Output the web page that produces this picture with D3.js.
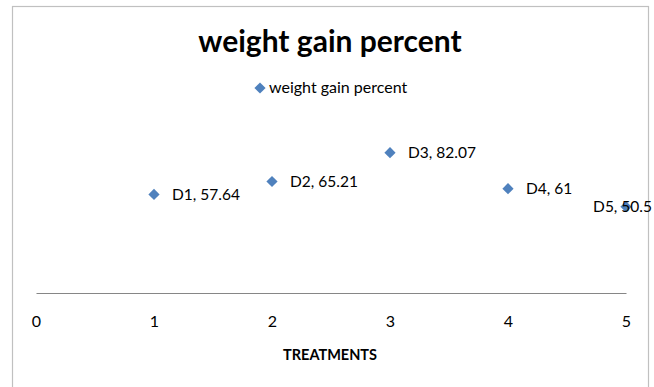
<!DOCTYPE html>
<html>
  <head>
    <meta charset="utf-8">
    <script type="text/javascript" src="https://d3js.org/d3.v7.min.js"></script>
    <style>
        body { margin:0; background:#fff; }
        svg { display:block; font-family: Lato, "Open Sans", sans-serif; }
    </style>
  </head>
  <body>
    <script type="text/javascript">
        var width = 654,
            height = 387;

        // data
        var treatments = ["D1", "D2", "D3", "D4", "D5"];
        var xValues = [1, 2, 3, 4, 5];
        var gainValues = [57.64, 65.21, 82.07, 61, 50.5];
        var xTicks = [0, 1, 2, 3, 4, 5];

        var svg = d3.select("body").append("svg")
            .attr("width", width)
            .attr("height", height);

        // chart frame
        svg.append("rect")
            .attr("x", 12.5).attr("y", 6.5)
            .attr("width", 636).attr("height", 400)
            .attr("fill", "none")
            .attr("stroke", "#c0c0c0")
            .attr("stroke-width", 1.2);

        var x = d3.scaleLinear().domain([0, 5]).range([36, 626]);
        var y = d3.scaleLinear().domain([0, 100]).range([293, 122]);

        svg.append("text")
            .attr("x", 330).attr("y", 52)
            .attr("text-anchor", "middle")
            .attr("font-size", 30)
            .attr("font-weight", "bold")
            .attr("fill", "#000")
            .text("weight gain percent");

        var diamond = d3.symbol().type(d3.symbolDiamond2).size(80);

        // legend
        svg.append("path")
            .attr("d", diamond)
            .attr("transform", "translate(260,88)")
            .attr("fill", "#4f81bd");
        svg.append("text")
            .attr("x", 269).attr("y", 93)
            .attr("font-size", 16)
            .attr("fill", "#000")
            .text("weight gain percent");

        // x axis
        var xAxis = svg.append("g")
            .attr("transform", "translate(0," + y(0) + ")")
            .call(d3.axisBottom(x).tickValues(xTicks).tickSize(0).tickPadding(23).tickFormat(d3.format("d")));
        xAxis.select(".domain").attr("stroke", "#868686").attr("stroke-width", 1.2);
        xAxis.selectAll("text")
            .attr("font-size", 16)
            .attr("font-family", "Lato, sans-serif")
            .attr("fill", "#000");

        svg.append("text")
            .attr("x", 330).attr("y", 360)
            .attr("text-anchor", "middle")
            .attr("font-size", 14.5)
            .attr("font-weight", "bold")
            .attr("fill", "#000")
            .text("TREATMENTS");

        var points = xValues.map(function(d, i) {
            return { x: d, y: gainValues[i], name: treatments[i] };
        });

        svg.selectAll(".pt")
            .data(points)
            .enter().append("path")
            .attr("class", "pt")
            .attr("d", diamond)
            .attr("transform", function(d) { return "translate(" + x(d.x) + "," + y(d.y) + ")"; })
            .attr("fill", "#4f81bd");

        svg.selectAll(".lbl")
            .data(points)
            .enter().append("text")
            .attr("class", "lbl")
            .attr("font-size", 15.5)
            .attr("fill", "#000")
            .attr("y", function(d) { return y(d.y) + 5.5; })
            .text(function(d) { return d.name + ", " + d.y; })
            .attr("x", function(d) {
                var w = this.getComputedTextLength();
                var lx = x(d.x) + 18;
                // keep label inside the chart area
                if (lx + w > 652) lx = 652 - w;
                return lx;
            });
    </script>
  </body>
</html>
